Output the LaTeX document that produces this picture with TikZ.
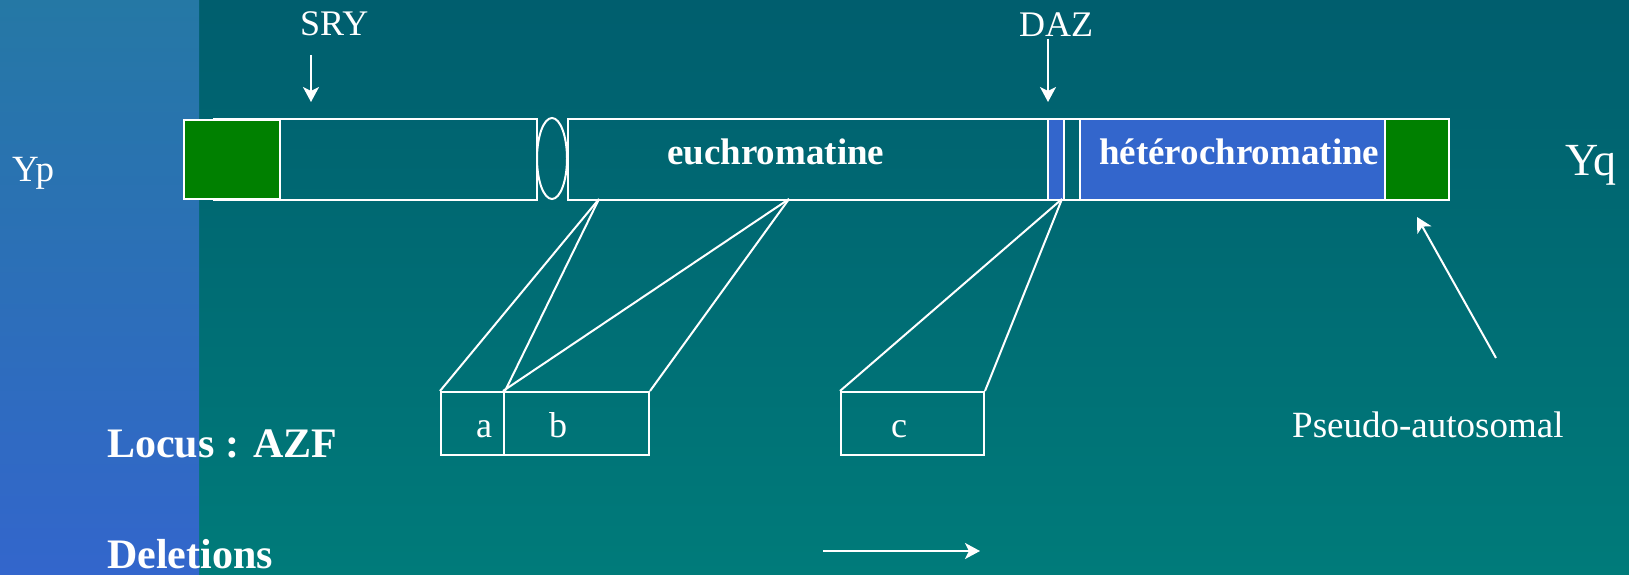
\documentclass[tikz,border=0pt]{standalone}
\usepackage{fontspec}
\setmainfont{Liberation Serif}
\usetikzlibrary{arrows.meta,shapes.geometric}
\definecolor{bgtop}{RGB}{0,94,110}
\definecolor{bgbot}{RGB}{0,123,122}
\definecolor{striptop}{RGB}{37,120,165}
\definecolor{stripbot}{RGB}{51,102,204}
\definecolor{chromblue}{RGB}{51,102,204}
\definecolor{chromgreen}{RGB}{0,128,0}
\begin{document}
\begin{tikzpicture}[x=1pt,y=-1pt,
  seg/.style={draw=white, line width=2pt, rectangle, inner sep=0pt, anchor=north west, minimum height=81pt},
  zone/.style={draw=white, line width=2pt, rectangle, inner sep=0pt, anchor=north west, minimum height=63pt},
  lbl/.style={text=white, inner sep=0pt, anchor=base west, font=\fontsize{36}{40}\selectfont},
  blbl/.style={text=white, inner sep=0pt, anchor=base west, font=\fontsize{37}{42}\selectfont\bfseries},
  link/.style={draw=white, line width=2pt},
  pointer/.style={draw=white, line width=2pt, -{Stealth[length=15pt,width=16pt,inset=4pt]}}]
\useasboundingbox (0,0) rectangle (1629,575);
\shade[top color=bgtop, bottom color=bgbot] (0,0) rectangle (1629,575);
\shade[top color=striptop, bottom color=stripbot] (0,0) rectangle (199,575);

% chromosome
\node[seg, minimum width=323pt] (parm) at (213,118) {};
\node[seg, fill=chromgreen, minimum width=96pt, minimum height=79pt] (telp) at (183,119) {};
\node[draw=white, line width=2pt, ellipse, inner sep=0pt, minimum width=30pt, minimum height=81pt] (cen) at (552,158.5) {};
\node[seg, minimum width=480pt] (euch) at (567,118) {};
\node[seg, fill=chromblue, minimum width=16pt] (daz) at (1047,118) {};
\node[seg, minimum width=16pt] (gap) at (1063,118) {};
\node[seg, fill=chromblue, minimum width=305pt] (het) at (1079,118) {};
\node[seg, fill=chromgreen, minimum width=64pt] (telq) at (1384,118) {};

\node[blbl] (euchl) at (667,164) {euchromatine};
\node[blbl] (hetl) at (1099,164) {hétérochromatine};

% labels
\node[lbl, font=\fontsize{37}{42}\selectfont] (yp) at (12,181) {Yp};
\node[lbl, font=\fontsize{46}{50}\selectfont] (yq) at (1565,175) {Yq};
\node[lbl] (sry) at (300,36) {SRY};
\node[lbl] (dazl) at (1019,37) {DAZ};
\node[lbl, font=\fontsize{37}{42}\selectfont] (pseudo) at (1292,437) {Pseudo-autosomal};
\node[blbl, font=\fontsize{42}{46}\selectfont\bfseries] (locus) at (107,457) {Locus : AZF};
\node[blbl, font=\fontsize{42}{46}\selectfont\bfseries] (del) at (107,568) {Deletions};

% AZF zones
\node[zone, minimum width=63pt] (za) at (440,391) {};
\node[zone, minimum width=145pt] (zb) at (503,391) {};
\node[zone, minimum width=143pt] (zc) at (840,391) {};
\node[lbl] (la) at (476,437) {a};
\node[lbl] (lb) at (549,437) {b};
\node[lbl] (lc) at (891,437) {c};

\coordinate (p1) at (599,199);
\coordinate (p2) at (789,199);
\coordinate (p3) at (1062,199);
\draw[link] (p1) -- (za.north west);
\draw[link] (p1) -- (za.north east);
\draw[link] (p2) -- (zb.north west);
\draw[link] (p2) -- (zb.north east);
\draw[link] (p3) -- (zc.north west);
\draw[link] (p3) -- (zc.north east);

% arrows
\coordinate (sryA) at (311,55);
\coordinate (sryB) at (311,102);
\coordinate (dazA) at (1048,39);
\coordinate (dazB) at (1048,102);
\coordinate (psA) at (1496,358);
\coordinate (psB) at (1417,217);
\coordinate (delA) at (823,551);
\coordinate (delB) at (980,551);
\draw[pointer] (sryA) -- (sryB);
\draw[pointer] (dazA) -- (dazB);
\draw[pointer] (psA) -- (psB);
\draw[pointer] (delA) -- (delB);
\end{tikzpicture}
\end{document}
